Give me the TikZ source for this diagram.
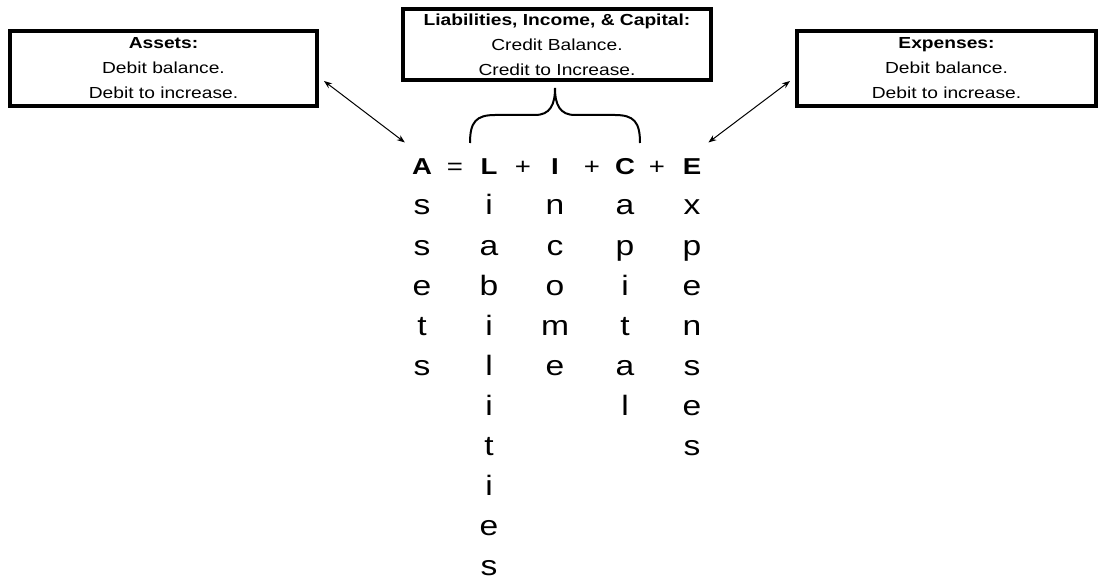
\documentclass[tikz,border=0pt]{standalone}
\usepackage{fontspec}
\setmainfont{Liberation Sans}
\usepackage{graphicx}
\usetikzlibrary{arrows.meta}
\newcommand{\sx}[1]{\scalebox{1.2}[1]{#1}}
\begin{document}
\begin{tikzpicture}[x=1pt,y=-1pt,
  infobox/.style={draw=black, line width=4pt, align=center, inner sep=0pt, font=\fontsize{16}{25}\selectfont},
  capl/.style={anchor=base, inner sep=0pt, font=\fontsize{23}{23}\selectfont\bfseries},
  opl/.style={anchor=base, inner sep=0pt, font=\fontsize{23}{23}\selectfont},
  lcl/.style={anchor=base, inner sep=0pt, font=\fontsize{28}{28}\selectfont},
  link/.style={line width=1pt, {Stealth[length=8pt,width=6pt]}-{Stealth[length=8pt,width=6pt]}},
  bracepath/.style={line width=2pt}]
\useasboundingbox (0,0) rectangle (1098,580);
\fill[white] (0,0) rectangle (1098,580);

% boxes
\node[infobox, minimum width=307pt, minimum height=75pt] (lbox) at (163.5,68.5)
  {\sx{\bfseries Assets:}\\\sx{Debit balance.}\\\sx{Debit to increase.}};
\node[infobox, minimum width=308pt, minimum height=71pt] (mbox) at (557,44.5)
  {\sx{\bfseries Liabilities, Income, \& Capital:}\\\sx{Credit Balance.}\\\sx{Credit to Increase.}};
\node[infobox, minimum width=299pt, minimum height=75pt] (rbox) at (946.5,68.5)
  {\sx{\bfseries Expenses:}\\\sx{Debit balance.}\\\sx{Debit to increase.}};

% equation
\node[capl] (A) at (422,175) {\sx{A}};
\node[opl] (eq) at (455,175) {\sx{=}};
\node[capl] (L) at (489,175) {\sx{L}};
\node[opl] (p1) at (523,175) {\sx{+}};
\node[capl] (I) at (555,175) {\sx{I}};
\node[opl] (p2) at (592,175) {\sx{+}};
\node[capl] (C) at (625,175) {\sx{C}};
\node[opl] (p3) at (657,175) {\sx{+}};
\node[capl] (E) at (692,175) {\sx{E}};

% vertical words
\foreach \ch [count=\i] in {s,s,e,t,s}
  \node[lcl] (as\i) at (422,175+40*\i) {\sx{\ch}};
\foreach \ch [count=\i] in {i,a,b,i,l,i,t,i,e,s}
  \node[lcl] (li\i) at (489,175+40*\i) {\sx{\ch}};
\foreach \ch [count=\i] in {n,c,o,m,e}
  \node[lcl] (in\i) at (555,175+40*\i) {\sx{\ch}};
\foreach \ch [count=\i] in {a,p,i,t,a,l}
  \node[lcl] (ca\i) at (625,175+40*\i) {\sx{\ch}};
\foreach \ch [count=\i] in {x,p,e,n,s,e,s}
  \node[lcl] (ex\i) at (692,175+40*\i) {\sx{\ch}};

% brace
\coordinate (btip) at (555,88);
\draw[bracepath] (470,143) .. controls (470,122) and (476,115) .. (495,115) -- (535,115)
  .. controls (550,115) and (555,105) .. (btip)
  .. controls (555,105) and (560,115) .. (575,115) -- (615,115)
  .. controls (634,115) and (640,122) .. (640,143);

% arrows
\draw[link] ([shift={(5,12.5)}]lbox.east) -- ([shift={(-7,-16.5)}]A.north west);
\draw[link] ([shift={(-5,12.5)}]rbox.west) -- ([shift={(7,-16.5)}]E.north east);
\end{tikzpicture}
\end{document}
